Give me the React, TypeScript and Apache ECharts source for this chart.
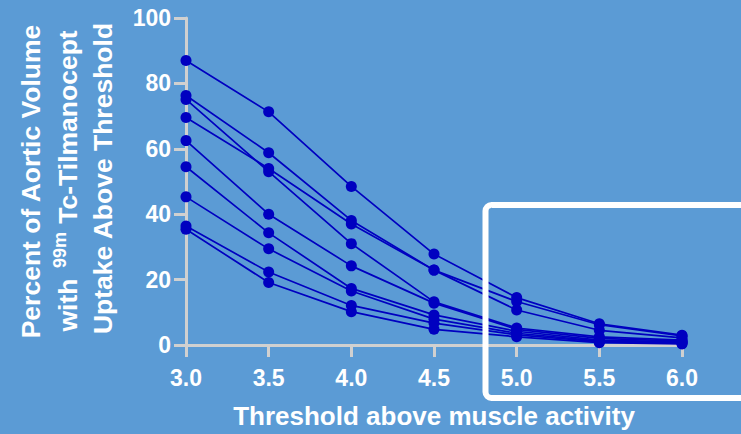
import React, { useEffect, useRef } from "react";
import * as echarts from "echarts";

const thresholds = [3.0, 3.5, 4.0, 4.5, 5.0, 5.5, 6.0];
const subject1 = [87.0, 71.3, 48.5, 27.8, 14.5, 6.5, 3.0];
const subject2 = [76.3, 58.8, 38.1, 22.9, 13.3, 6.2, 2.8];
const subject3 = [75.1, 53.0, 31.0, 13.2, 5.2, 2.5, 1.5];
const subject4 = [69.6, 54.0, 37.0, 22.9, 10.7, 4.5, 2.2];
const subject5 = [62.5, 40.0, 24.2, 12.8, 4.8, 2.0, 1.2];
const subject6 = [54.5, 34.3, 17.3, 9.2, 4.2, 1.5, 1.0];
const subject7 = [45.3, 29.4, 16.5, 7.9, 3.6, 1.2, 0.8];
const subject8 = [36.4, 22.3, 12.1, 6.7, 3.1, 1.0, 0.5];
const subject9 = [35.4, 19.1, 10.2, 4.8, 2.5, 0.7, 0.3];
const allSubjects = [subject1, subject2, subject3, subject4, subject5, subject6, subject7, subject8, subject9];

const xTitle = "Threshold above muscle activity";
const yTitle1 = "Percent of Aortic Volume";
const yTitle2a = "with";
const yTitle2sup = "99m";
const yTitle2b = "Tc-Tilmanocept";
const yTitle3 = "Uptake Above Threshold";

const FONT = "'Liberation Sans', Arial, Helvetica, sans-serif";
const AXIS = "#d0d0d0";
const MARK = "#0000c0";

export default function App() {
  const ref = useRef<HTMLDivElement>(null);
  useEffect(() => {
    document.body.style.margin = "0";
    const chart = echarts.init(ref.current!, null, { renderer: "svg" });
    const series = allSubjects.map((vals, i) => ({
      type: "line",
      name: "Subject " + (i + 1),
      data: thresholds.map((t, j) => [t, vals[j]]),
      symbol: "circle",
      symbolSize: 11,
      lineStyle: { color: MARK, width: 1.7 },
      itemStyle: { color: MARK },
      z: 3,
    }));
    const titleText = (text: string, x: number, y: number, size: number) => ({
      type: "text",
      x,
      y,
      rotation: Math.PI / 2,
      style: {
        text,
        fill: "#ffffff",
        font: `bold ${size}px ${FONT}`,
        align: "center",
        verticalAlign: "middle",
      },
      z: 10,
    });
    chart.setOption({
      animation: false,
      backgroundColor: "#5b9bd5",
      grid: { left: 186, right: 59, top: 18, bottom: 87 },
      xAxis: {
        type: "value",
        min: 3,
        max: 6,
        interval: 0.5,
        name: xTitle,
        nameLocation: "middle",
        nameGap: 71,
        nameTextStyle: { color: "#fff", fontWeight: "bold", fontSize: 26, fontFamily: FONT, verticalAlign: "middle" },
        axisLine: { show: true, lineStyle: { color: AXIS, width: 3 } },
        axisTick: { show: true, length: 12, lineStyle: { color: AXIS, width: 3 } },
        axisLabel: {
          color: "#fff",
          fontWeight: "bold",
          fontSize: 23,
          fontFamily: FONT,
          margin: 21,
          formatter: (v: number) => v.toFixed(1),
        },
        splitLine: { show: false },
      },
      yAxis: {
        type: "value",
        min: 0,
        max: 100,
        interval: 20,
        axisLine: { show: true, lineStyle: { color: AXIS, width: 3 } },
        axisTick: { show: true, length: 12, lineStyle: { color: AXIS, width: 3 } },
        axisLabel: { color: "#fff", fontWeight: "bold", fontSize: 23, fontFamily: FONT, margin: 15 },
        splitLine: { show: false },
      },
      graphic: [
        titleText(yTitle1, 31, 181.5, 26.5),
        titleText(yTitle2b, 68, 127, 26.5),
        titleText(yTitle2sup, 59.5, 250, 18),
        titleText(yTitle2a, 68, 305, 26.5),
        titleText(yTitle3, 103, 178.5, 26.5),
        {
          type: "rect",
          shape: { x: 485.5, y: 205, width: 320, height: 193, r: 6 },
          style: { fill: "none", stroke: "#ffffff", lineWidth: 6 },
          z: 20,
        },
      ],
      series,
    });
    return () => chart.dispose();
  }, []);
  return <div ref={ref} style={{ width: 741, height: 434 }} />;
}
